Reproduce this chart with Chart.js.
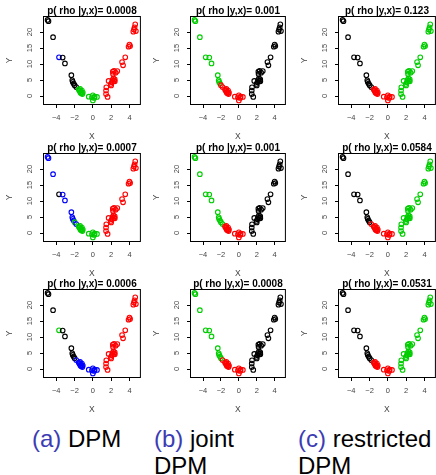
<!DOCTYPE html>
<html>
<head>
<meta charset="utf-8">
<script src="https://cdn.jsdelivr.net/npm/chart.js@4.4.0/dist/chart.umd.min.js"></script>
<style>
  html, body { margin: 0; padding: 0; background: #fff; }
  body { width: 436px; height: 475px; position: relative; overflow: hidden; font-family: 'Liberation Sans', Arial, sans-serif; }
  canvas { position: absolute; }
  .cap { position: absolute; font-size: 24px; line-height: 27px; color: #000; white-space: nowrap; }
  .cap span { color: #3c3cb4; }
</style>
</head>
<body>
<div class="cap" style="left:32px;top:425px"><span>(a)</span> DPM</div>
<div class="cap" style="left:154px;top:425px"><span>(b)</span> joint<br>DPM</div>
<div class="cap" style="left:298px;top:425px"><span>(c)</span> restricted<br>DPM</div>
<script>
// observations (same data in every panel)
const xVals = [
  -4.95, -4.85, -4.35, -3.7, -3.3, -3.05, -2.35, -2.25, -2.2, -2.1, -2.0, -1.82,
  -1.55, -1.45, -1.4, -1.3, -1.25, -1.2, -1.1, -1.15, -1.35,
  -0.45, -0.1, 0.0, 0.0, 0.15, 0.45, 0.2,
  1.47, 1.44, 1.44, 1.61, 1.72, 1.96, 2.07, 2.14, 2.25, 2.32, 2.39, 2.18, 2.32, 2.49, 2.67, 2.2,
  3.19, 3.3, 3.54, 3.9, 4.0, 4.07, 4.42, 4.49, 4.56, 4.63, 4.7, 2.0, 2.4
];
const yVals = [
  23.8, 23.4, 18.4, 12.1, 12.0, 10.2, 6.5, 4.9, 4.4, 3.9, 3.4, 2.8,
  2.0, 1.6, 2.2, 1.3, 0.9, 1.7, 1.1, 0.6, 1.0,
  -0.2, -0.4, 0.2, -1.4, -0.6, -0.3, -0.2,
  2.7, 1.7, 0.6, -0.3, 4.7, 3.75, 4.3, 5.0, 5.5, 4.8, 5.2, 7.6, 7.9, 7.3, 7.8, 6.9,
  10.6, 9.6, 12.1, 15.4, 16.1, 15.6, 20.1, 20.8, 21.5, 22.4, 20.3, 3.3, 4.6
];

// cluster colour of each point, per panel (K black, R red, G green, B blue)
const clustersA1 = 'KKKBKKKKKKKK GGGGGGGGG GGGGGGG RRRRRRRRRR RRRRRRRRRR RRRRRRRRR';
const clustersB1 = 'GGGGGGGGGGRR RRRRRRRRR RRRRRRR KKKKKKKKKK KKKKKKKKKK KKKKKKKKK';
const clustersC1 = 'KKKKKKKKKKKK RRRRRRRRR RRRRRRR GGGGGGGGGG GGGGGGGGGG GGGGGGGGG';
const clustersA2 = 'BBBKBBBBBBGB GGGGGGGGG GGGGGGG RRRRRRRRRR RRRRRRRRRR RRRRRRRRR';
const clustersB2 = 'GGGGGGGGGGGG RRRRRRRRR RRRRRRR KKKKKKKKKK KKKKKKKKKK KKKKKKKKK';
const clustersC2 = 'KKKKKKKKKKKR RRRRRRRRR RRRRRRR GGGGGGGGGG GGGGGGGGGG GGGGGGGGG';
const clustersA3 = 'KKKGKKKKKKKB BBBBBBBBB BBBBBBB RRRRRRRRRR RRRRRRRRRR RRRRRRRRR';
const clustersB3 = 'GGGGGGGGGGGR RRRRRRRRR RRRRRRR KKKKKKKKKK KKKKKKKKKK KKKKKKKKK';
const clustersC3 = 'KKKKKKKKKKKK RRRRRRRRR RRRRRRR GGGGGGGGGG GGGGGGGGGG GGGGGGGGG';

const panelClusters = [clustersA1, clustersB1, clustersC1, clustersA2, clustersB2, clustersC2, clustersA3, clustersB3, clustersC3];
const panelProbs = ['0.0008', '0.001', '0.123', '0.0007', '0.001', '0.0584', '0.0006', '0.0008', '0.0531'];

const xTicks = [-4, -2, 0, 2, 4];
const yTicks = [0, 5, 10, 15, 20];

const palette = { K: '#000000', R: '#ff0000', G: '#00cd00', B: '#0000ff' };

const colLeft = [0, 145, 290];
const chartLeft = [44, 46, 49];
const chartW = [100, 98, 100];
const rowTop = [0, 137, 273];

const FONT = "'Liberation Sans', Arial, sans-serif";

const plotBox = {
  id: 'plotBox',
  afterDraw(chart) {
    const { ctx, chartArea: a } = chart;
    ctx.save();
    ctx.strokeStyle = '#000';
    ctx.lineWidth = 1;
    ctx.strokeRect(a.left - 0.5, a.top - 0.5, a.right - a.left + 1, a.bottom - a.top + 1);
    ctx.restore();
  }
};

const fmt = v => (v < 0 ? '\u2212' + Math.abs(v) : String(v));

function drawPanel(i) {
  const col = i % 3, row = Math.floor(i / 3);
  const codes = panelClusters[i].replace(/ /g, '').split('');
  const left = chartLeft[col];

  const canvas = document.createElement('canvas');
  canvas.width = left + chartW[col] + 1;
  canvas.height = 144;
  canvas.style.left = colLeft[col] + 'px';
  canvas.style.top = rowTop[row] + 'px';
  document.body.appendChild(canvas);

  new Chart(canvas, {
    type: 'scatter',
    data: {
      datasets: [{
        data: xVals.map((x, k) => ({ x: x, y: yVals[k] })),
        pointRadius: 2.3,
        pointBorderWidth: 1.1,
        pointBackgroundColor: 'rgba(0,0,0,0)',
        pointBorderColor: codes.map(c => palette[c])
      }]
    },
    options: {
      responsive: false,
      animation: false,
      events: [],
      layout: { padding: { left: 0, right: 1, top: 0, bottom: 0 } },
      plugins: {
        legend: { display: false },
        tooltip: { enabled: false },
        title: {
          display: true,
          text: 'p( rho |y,x)= ' + panelProbs[i],
          fullSize: false,
          color: '#000',
          font: { family: FONT, size: 10, weight: 'bold' },
          padding: { top: 5, bottom: 0 }
        }
      },
      scales: {
        x: {
          type: 'linear',
          min: -5.34, max: 5.14,
          afterBuildTicks: s => { s.ticks = xTicks.map(v => ({ value: v })); },
          afterFit: s => { s.height = 40; },
          grid: { display: true, drawOnChartArea: false, drawTicks: true, tickLength: 4, color: '#000' },
          border: { display: false },
          ticks: { autoSkip: false, maxRotation: 0, padding: 5.5, color: '#444', font: { family: FONT, size: 7.5 }, callback: fmt },
          title: { display: true, text: 'X', color: '#444', font: { family: FONT, size: 8.5 }, padding: { top: 0, bottom: 2 } }
        },
        y: {
          type: 'linear',
          min: -2.5, max: 24.7,
          afterBuildTicks: s => { s.ticks = yTicks.map(v => ({ value: v })); },
          afterFit: s => { s.width = left; },
          grid: { display: true, drawOnChartArea: false, drawTicks: true, tickLength: 4, color: '#000' },
          border: { display: false },
          ticks: { autoSkip: false, minRotation: 90, maxRotation: 90, crossAlign: 'center', padding: 5.5, color: '#444', font: { family: FONT, size: 7.5 }, callback: fmt },
          title: { display: true, text: 'Y', color: '#444', font: { family: FONT, size: 8.5 }, padding: { top: left - 39.1, bottom: 0 } }
        }
      }
    },
    plugins: [plotBox]
  });
}

for (let i = 0; i < 9; i++) drawPanel(i);
</script>
</body>
</html>
